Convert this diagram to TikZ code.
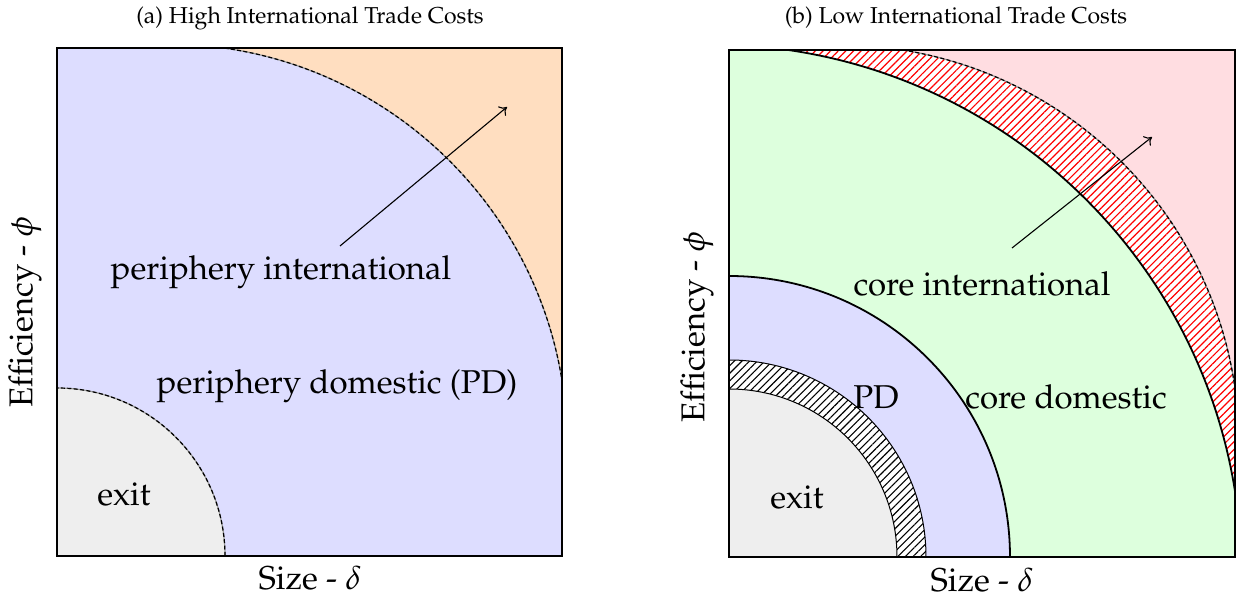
\documentclass[tikz,border=0pt]{standalone}
\usepackage[T1]{fontenc}
\usepackage{mathpazo}
\usepackage{tikz}
\usetikzlibrary{arrows.meta,patterns.meta,positioning}
\definecolor{softlav}{RGB}{221,221,255}
\definecolor{softpeach}{RGB}{255,222,192}
\definecolor{softpink}{RGB}{255,221,225}
\definecolor{softgreen}{RGB}{221,255,221}
\definecolor{softgrey}{RGB}{238,238,238}
\tikzset{
  pointer/.style={-{To[length=3.5pt,width=6pt]}, line width=0.55pt, draw=black},
  frame/.style={draw=black, line width=1.2pt},
  bound/.style={draw=black, line width=0.9pt},
  thinbound/.style={draw=black, line width=0.5pt},
  dashbound/.style={draw=black, line width=0.6pt, dash pattern=on 2pt off 1.2pt},
  underbound/.style={draw=black!40, line width=0.6pt},
  redhatch/.style={pattern={Lines[angle=45,distance=2.7pt,line width=0.6pt]}, pattern color=red},
  greyhatch/.style={pattern={Lines[angle=45,distance=2.7pt,line width=0.55pt]}, pattern color=black},
  lbl/.style={font=\fontsize{16.5}{19}\selectfont, inner sep=1pt},
  ttl/.style={font=\fontsize{11.5}{13}\selectfont}
}

\begin{document}
\begin{tikzpicture}[x=0.5pt,y=0.5pt]
  \useasboundingbox (0,0) rectangle (1239,599);

  % (a) high trade costs
  \begin{scope}[shift={(57,43)}]
    \begin{scope}
      \clip (0,0) rectangle (505,508);
      \fill[softpeach] (0,0) rectangle (505,508);
      \fill[softlav] (-5,-5) -- (-5,512) -- (110,512) arc[start angle=90,end angle=0,radius=400] -- (510,-5) -- cycle;
      \fill[softgrey] (0,0) -- (168,0) arc[start angle=0,end angle=90,radius=168] -- cycle;
      \draw[underbound] (110,512) arc[start angle=90,end angle=0,radius=400];
      \draw[dashbound] (110,512) arc[start angle=90,end angle=0,radius=400];
      \draw[underbound] (168,0) arc[start angle=0,end angle=90,radius=168];
      \draw[dashbound] (168,0) arc[start angle=0,end angle=90,radius=168];
    \end{scope}
    \draw[frame] (0,0) rectangle (505,508);
  \end{scope}
  \node[ttl] (titlea) at (310,581) {(a) High International Trade Costs};
  \node[lbl] (perint) at (281,327) {periphery international};
  \node[lbl] (perdom) at (337,213) {periphery domestic (PD)};
  \node[lbl] (exita) at (124,105) {exit};
  \node[lbl,rotate=90] (effa) at (25,287) {Efficiency - $\phi$};
  \node[lbl] (sizea) at (310,21) {Size - $\delta$};
  \coordinate (fromA) at (340,353);
  \coordinate (toA) at (507,492);
  \draw[pointer] (fromA) -- (toA);

  % (b) low trade costs
  \begin{scope}[shift={(729,42)}]
    \begin{scope}
      \clip (0,0) rectangle (506,507);
      \fill[softpink] (0,0) rectangle (506,507);
      \path[preaction={fill=white}, redhatch] (-5,-5) -- (-5,512) -- (110,512) arc[start angle=90,end angle=0,radius=400] -- (510,-5) -- cycle;
      \fill[softgreen] (-17.5,-17.5) -- (-17.5,512.5) arc[start angle=90,end angle=0,radius=530] -- cycle;
      \draw[underbound] (110,512) arc[start angle=90,end angle=0,radius=400];
      \draw[dashbound] (110,512) arc[start angle=90,end angle=0,radius=400];
      \draw[bound] (-17.5,512.5) arc[start angle=90,end angle=0,radius=530];
      \fill[softlav] (0,0) -- (281,0) arc[start angle=0,end angle=90,radius=281] -- cycle;
      \draw[bound] (281,0) arc[start angle=0,end angle=90,radius=281];
      \path[preaction={fill=white}, greyhatch] (0,0) -- (197,0) arc[start angle=0,end angle=90,radius=197] -- cycle;
      \draw[thinbound] (197,0) arc[start angle=0,end angle=90,radius=197];
      \fill[softgrey] (0,0) -- (168,0) arc[start angle=0,end angle=90,radius=168] -- cycle;
      \draw[thinbound] (168,0) arc[start angle=0,end angle=90,radius=168];
    \end{scope}
    \draw[frame] (0,0) rectangle (506,507);
  \end{scope}
  \node[ttl] (titleb) at (956,581) {(b) Low International Trade Costs};
  \node[lbl] (coreint) at (982,315) {core international};
  \node[lbl] (coredom) at (1066,202) {core domestic};
  \node[lbl] (pdb) at (876,202) {PD};
  \node[lbl] (exitb) at (797,102) {exit};
  \node[lbl,rotate=90] (effb) at (697,272) {Efficiency - $\phi$};
  \node[lbl] (sizeb) at (982,19) {Size - $\delta$};
  \coordinate (fromB) at (1012,351);
  \coordinate (toB) at (1152,462);
  \draw[pointer] (fromB) -- (toB);
\end{tikzpicture}
\end{document}
